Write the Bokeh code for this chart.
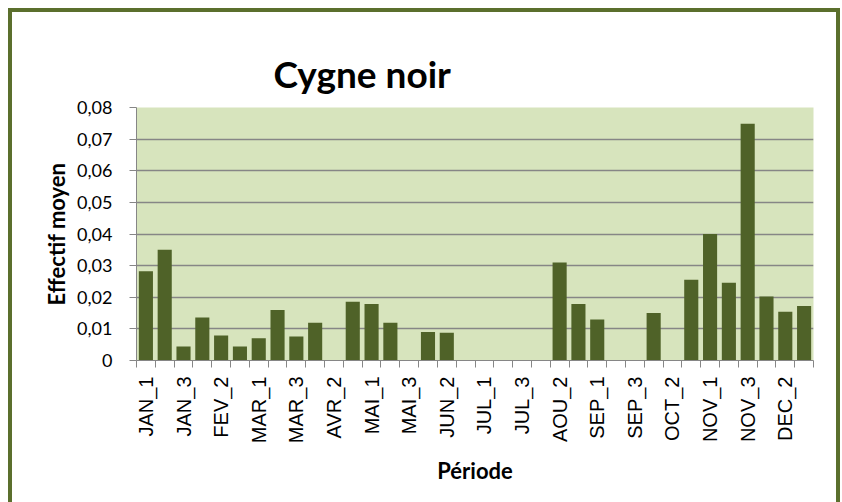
from math import pi
from bokeh.plotting import figure
from bokeh.models import FixedTicker, ColumnDataSource, Range1d
from bokeh.embed import file_html
from bokeh.resources import INLINE

periods = ["JAN_1", "JAN_2", "JAN_3", "FEV_1", "FEV_2", "FEV_3",
           "MAR_1", "MAR_2", "MAR_3", "AVR_1", "AVR_2", "AVR_3",
           "MAI_1", "MAI_2", "MAI_3", "JUN_1", "JUN_2", "JUN_3",
           "JUL_1", "JUL_2", "JUL_3", "AOU_1", "AOU_2", "AOU_3",
           "SEP_1", "SEP_2", "SEP_3", "OCT_1", "OCT_2", "OCT_3",
           "NOV_1", "NOV_2", "NOV_3", "DEC_1", "DEC_2", "DEC_3"]
values = [0.0282, 0.0350, 0.0044, 0.0136, 0.0079, 0.0044,
          0.0070, 0.0160, 0.0076, 0.0119, 0.0, 0.0186,
          0.0179, 0.0119, 0.0, 0.0090, 0.0088, 0.0,
          0.0, 0.0, 0.0, 0.0, 0.0310, 0.0179,
          0.0130, 0.0, 0.0, 0.0150, 0.0, 0.0255,
          0.0400, 0.0246, 0.0749, 0.0202, 0.0154, 0.0172]
y_ticks = [0, 0.01, 0.02, 0.03, 0.04, 0.05, 0.06, 0.07, 0.08]
y_tick_labels = ["0", "0,01", "0,02", "0,03", "0,04", "0,05", "0,06", "0,07", "0,08"]

n = len(periods)
xpos = [i + 0.5 for i in range(n)]
src = ColumnDataSource(dict(x=xpos, top=values, name=periods))

W, H = 824, 490
p = figure(width=W, height=H, output_backend="svg", toolbar_location=None,
           x_range=Range1d(0, n), y_range=Range1d(0, 0.08),
           min_border_left=124, min_border_right=23,
           min_border_top=95, min_border_bottom=142)
p.margin = (12, 0, 0, 12)
p.styles = {"outline": "4px solid #5b6f2d"}

p.background_fill_color = "#d7e4bd"
p.border_fill_color = "white"
p.outline_line_color = None

p.vbar(x="x", top="top", width=0.75, bottom=0, source=src,
       fill_color="#4f6228", line_color=None)

# title
p.title.text = "Cygne noir"
p.title.text_font = "Lato"
p.title.text_font_style = "bold"
p.title.text_font_size = "37px"
p.title.align = "left"
p.title.offset = 137
p.title.standoff = 24
p.title.text_color = "black"

# x axis
label_pos = xpos[::2]
p.xaxis.ticker = FixedTicker(ticks=label_pos, minor_ticks=list(range(n + 1)))
p.xaxis.major_label_overrides = {x: name for x, name in zip(label_pos, periods[::2])}
p.xaxis.major_label_orientation = pi / 2
p.xaxis.major_tick_out = 0
p.xaxis.major_tick_in = 0
p.xaxis.minor_tick_out = 7
p.xaxis.minor_tick_in = 0
p.xaxis.minor_tick_line_color = "#868686"
p.xaxis.axis_line_color = "#868686"
p.xaxis.major_label_text_font = "Liberation Sans"
p.xaxis.major_label_text_font_size = "20px"
p.xaxis.major_label_text_color = "black"
p.xaxis.major_label_standoff = 9
p.xaxis.axis_label = "Période"
p.xaxis.axis_label_text_font = "Lato"
p.xaxis.axis_label_text_font_style = "bold"
p.xaxis.axis_label_text_font_size = "22px"
p.xaxis.axis_label_text_color = "black"
p.xaxis.axis_label_standoff = 11

# y axis
p.yaxis.ticker = FixedTicker(ticks=y_ticks)
p.yaxis.major_label_overrides = {t: l for t, l in zip(y_ticks, y_tick_labels)}
p.yaxis.major_tick_out = 7
p.yaxis.major_tick_in = 0
p.yaxis.minor_tick_line_color = None
p.yaxis.major_tick_line_color = "#868686"
p.yaxis.axis_line_color = "#868686"
p.yaxis.major_label_text_font = "Lato"
p.yaxis.major_label_text_font_size = "18px"
p.yaxis.major_label_text_color = "black"
p.yaxis.major_label_standoff = 17
p.yaxis.axis_label = "Effectif moyen"
p.yaxis.axis_label_text_font = "Lato"
p.yaxis.axis_label_text_font_style = "bold"
p.yaxis.axis_label_text_font_size = "22px"
p.yaxis.axis_label_text_color = "black"
p.yaxis.axis_label_standoff = 4

p.xgrid.grid_line_color = None
p.ygrid.grid_line_color = "#868686"
p.ygrid.grid_line_width = 1.5

open("out.html", "w").write(file_html(p, INLINE))
